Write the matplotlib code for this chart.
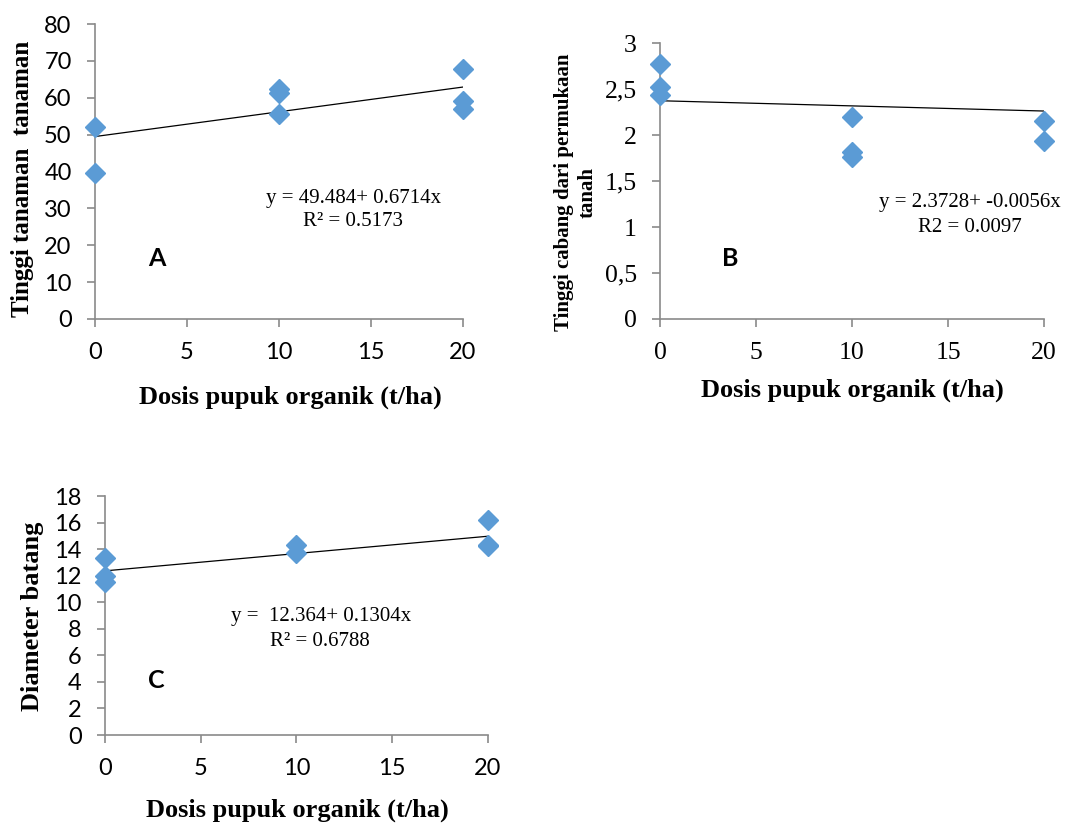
import numpy as np
import matplotlib
matplotlib.use("Agg")
import matplotlib.pyplot as plt

# Panel A - Tinggi tanaman
dosis_a = [0, 0, 10, 10, 10, 20, 20, 20]
tinggi_a = [52.1, 39.6, 62.5, 61.2, 55.6, 67.7, 59.2, 56.9]
fit_a = (49.484, 0.6714)

# Panel B - Tinggi cabang dari permukaan tanah
dosis_b = [0, 0, 0, 10, 10, 10, 20, 20]
tinggi_b = [2.77, 2.52, 2.43, 2.20, 1.82, 1.76, 2.15, 1.93]
fit_b = (2.3728, -0.0056)

# Panel C - Diameter batang
dosis_c = [0, 0, 0, 10, 10, 20, 20, 20]
diameter_c = [13.3, 12.0, 11.5, 14.3, 13.7, 16.2, 14.3, 14.2]
fit_c = (12.364, 0.1304)

x_ticks = [0, 5, 10, 15, 20]
yticks_a = [0, 10, 20, 30, 40, 50, 60, 70, 80]
yticks_b = [0, 0.5, 1, 1.5, 2, 2.5, 3]
yticklabels_b = ["0", "0,5", "1", "1,5", "2", "2,5", "3"]
yticks_c = [0, 2, 4, 6, 8, 10, 12, 14, 16, 18]

blue = "#5B9BD5"
grey = "#8A8A8A"
serif = "Liberation Serif"
sans = "Lato"
W, H = 1076, 823

fig = plt.figure(figsize=(W / 100, H / 100), dpi=100)


def px(x, y):
    # pixel position (from top-left) -> figure fraction
    return x / W, 1 - y / H


def ftext(x, y, s, **kw):
    fig.text(*px(x, y), s, ha="center", va="center", **kw)


def style_axes(ax, tick_font, size):
    for s in ["top", "right"]:
        ax.spines[s].set_visible(False)
    for s in ["left", "bottom"]:
        ax.spines[s].set_color(grey)
        ax.spines[s].set_linewidth(1.2)
    ax.tick_params(axis="both", color=grey, length=5.8, width=1.2, direction="out", pad=11)
    for lab in ax.get_xticklabels() + ax.get_yticklabels():
        lab.set_fontfamily(tick_font)
        lab.set_fontsize(size)


def panel(ax, x, y, fit):
    xs = np.array([0, 20])
    ax.plot(xs, fit[0] + fit[1] * xs, color="black", lw=0.9, zorder=2)
    ax.plot(x, y, "D", color=blue, markersize=10.5, ls="none", clip_on=False, zorder=3)
    ax.set_xlim(0, 20)
    ax.set_xticks(x_ticks)


# A
ax_a = fig.add_axes([0.0883, 0.6124, 0.342, 0.3584])
panel(ax_a, dosis_a, tinggi_a, fit_a)
ax_a.set_ylim(0, 80)
ax_a.set_yticks(yticks_a)
style_axes(ax_a, sans, 17)
ftext(23, 179, "Tinggi tanaman  tanaman", rotation=90, family=serif, weight="bold", fontsize=18)
ftext(290, 397, "Dosis pupuk organik (t/ha)", family=serif, weight="bold", fontsize=19)
ftext(354, 199, "y = 49.484+ 0.6714x", family=serif, fontsize=15)
ftext(353, 221, "R² = 0.5173", family=serif, fontsize=15)
ftext(157, 258, "A", family=sans, weight="bold", fontsize=18)

# B
ax_b = fig.add_axes([0.6134, 0.6124, 0.3569, 0.3353])
panel(ax_b, dosis_b, tinggi_b, fit_b)
ax_b.set_ylim(0, 3)
ax_b.set_yticks(yticks_b)
ax_b.set_yticklabels(yticklabels_b)
style_axes(ax_b, serif, 18.5)
ftext(576, 192, "Tinggi cabang dari permukaan\ntanah", rotation=90, family=serif, weight="bold",
      fontsize=15, linespacing=1.2)
ftext(852, 390, "Dosis pupuk organik (t/ha)", family=serif, weight="bold", fontsize=19)
ftext(970, 203, "y = 2.3728+ -0.0056x", family=serif, fontsize=15)
ftext(970, 227, "R2 = 0.0097", family=serif, fontsize=15)
ftext(730, 258, "B", family=sans, weight="bold", fontsize=18)

# C
ax_c = fig.add_axes([0.0976, 0.1069, 0.3559, 0.2904])
panel(ax_c, dosis_c, diameter_c, fit_c)
ax_c.set_ylim(0, 18)
ax_c.set_yticks(yticks_c)
style_axes(ax_c, sans, 17)
ftext(33, 616, "Diameter batang", rotation=90, family=serif, weight="bold", fontsize=19)
ftext(297, 810, "Dosis pupuk organik (t/ha)", family=serif, weight="bold", fontsize=19)
ftext(321, 617, "y =  12.364+ 0.1304x", family=serif, fontsize=15)
ftext(320, 642, "R² = 0.6788", family=serif, fontsize=15)
ftext(156, 681, "C", family=sans, weight="bold", fontsize=18)

fig.savefig("out.png", dpi=100)
